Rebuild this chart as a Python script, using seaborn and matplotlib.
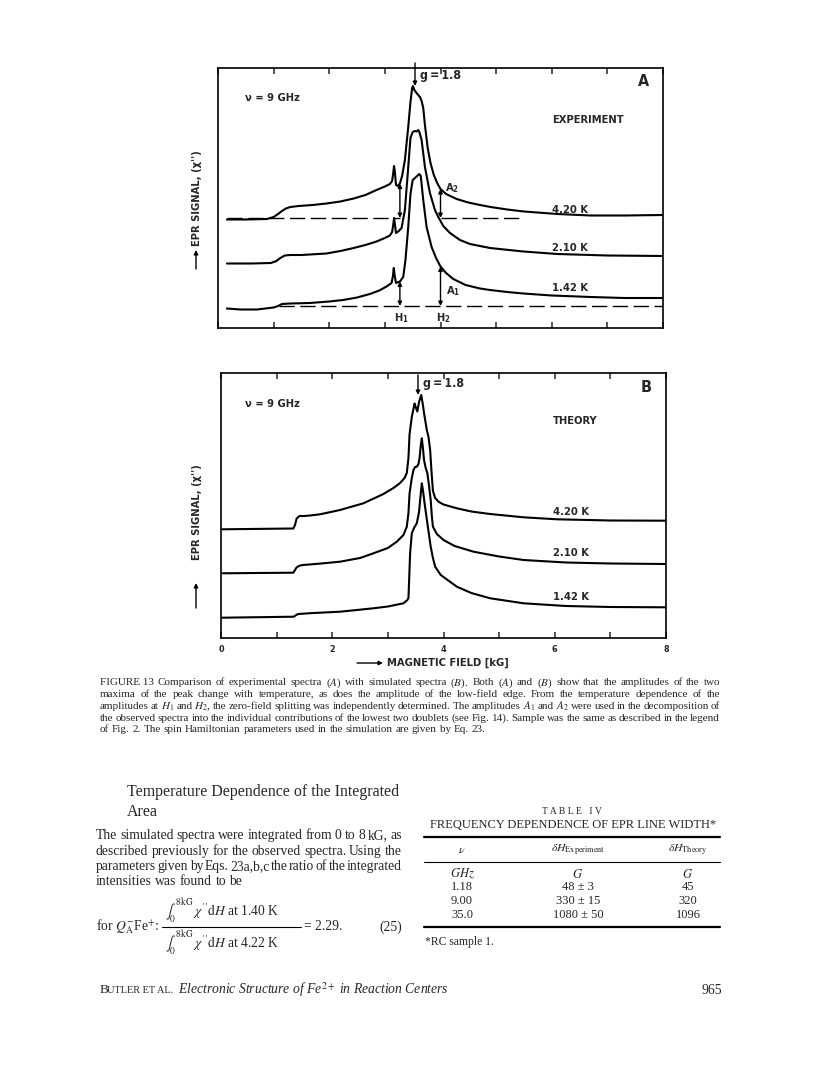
import numpy as np
import pandas as pd
import seaborn as sns
import matplotlib.pyplot as plt
from matplotlib import font_manager
from matplotlib.lines import Line2D

sns.set_style("white")

fonts = font_manager.fontManager.ttflist
installed = {f.name for f in fonts}
label_stretch = "normal"
if "Liberation Sans Narrow" in installed:
    label_font = "Liberation Sans Narrow"
elif any(f.name == "DejaVu Sans" and f.stretch == "condensed" for f in fonts):
    label_font, label_stretch = "DejaVu Sans", "condensed"
else:
    label_font = "Liberation Sans"
serif_font = "Liberation Serif"
plt.rcParams['font.family'] = [label_font, 'DejaVu Sans']
plt.rcParams['font.stretch'] = label_stretch
plt.rcParams['mathtext.fontset'] = 'custom'
plt.rcParams['mathtext.rm'] = label_font
plt.rcParams['mathtext.it'] = label_font + ':italic'
plt.rcParams['mathtext.bf'] = label_font + ':bold'

W, H = 816, 1069

#%% Data (field in kG, signal in arbitrary units)

# Panel A - experiment
a_field_420 = [0.16, 0.5, 0.88, 1.0, 1.08, 1.15, 1.22, 1.3, 1.45, 1.7, 1.95, 2.2, 2.44, 2.65, 2.85, 3.0, 3.09,
               3.13, 3.15, 3.165, 3.18, 3.2, 3.23, 3.27, 3.31, 3.36, 3.42, 3.46, 3.49, 3.505, 3.53, 3.57, 3.63,
               3.66, 3.69, 3.72, 3.77, 3.82, 3.88, 3.94, 4.0, 4.1, 4.29, 4.5, 4.71, 4.9, 5.2, 5.5, 6.1, 6.7, 7.3, 8.0]
a_signal_420 = [108.5, 108.5, 109, 111, 114, 117, 119.5, 121, 122, 123, 124.5, 126.5, 129.5, 133, 138, 141.5, 144,
                147, 155, 162, 156, 143, 142, 144.5, 152, 168, 201, 226, 240, 242, 238, 235, 231,
                227, 220, 203, 180, 165, 153, 145, 139, 134, 129, 125.5, 123, 121, 118.5, 116.5, 114, 112.5, 112.5, 113]

a_field_210 = [0.16, 0.6, 0.95, 1.05, 1.12, 1.2, 1.3, 1.5, 1.95, 2.2, 2.44, 2.65, 2.85, 3.0, 3.09, 3.13, 3.15,
               3.165, 3.18, 3.2, 3.25, 3.3, 3.36, 3.42, 3.46, 3.5, 3.54, 3.57, 3.6, 3.62, 3.66, 3.72, 3.81, 3.9,
               3.96, 4.05, 4.17, 4.35, 4.53, 4.89, 5.49, 6.1, 7.0, 8.0]
a_signal_210 = [64.5, 64.5, 65, 67, 70, 72.5, 73, 73, 74.5, 77, 80, 83, 86.5, 90, 92.5, 96, 103,
                110, 104, 95, 97, 100, 118, 161, 190, 196, 197, 196.5, 198, 196, 188, 161, 135, 118,
                111, 102, 95, 88, 84, 80, 76.5, 74, 72.5, 72]

a_field_142 = [0.16, 0.4, 0.7, 1.0, 1.08, 1.15, 1.3, 1.65, 2.0, 2.25, 2.5, 2.73, 2.9, 3.03, 3.12, 3.145, 3.16,
               3.175, 3.2, 3.27, 3.33, 3.37, 3.42, 3.46, 3.5, 3.57, 3.62, 3.645, 3.69, 3.75, 3.84, 3.92, 4.0,
               4.1, 4.23, 4.45, 4.71, 4.89, 5.2, 5.49, 6.0, 6.7, 7.3, 8.0]
a_signal_142 = [19.5, 18.5, 18.5, 20.5, 22, 24, 24.5, 25, 26.5, 28, 30.5, 34, 37.5, 41.5, 45, 52, 60,
                53, 45, 46.5, 51, 68, 101, 134, 148, 151.5, 154, 152, 128, 101, 81, 70, 61.5,
                55, 49, 43, 39.5, 38, 36, 34.5, 32.5, 31, 30, 30]

# Panel B - theory
b_field_420 = [0.02, 1.3, 1.33, 1.36, 1.41, 1.5, 1.6, 1.78, 2.14, 2.56, 2.92, 3.1, 3.22, 3.3, 3.34, 3.37, 3.39,
               3.43, 3.48, 3.5, 3.53, 3.56, 3.6, 3.63, 3.65, 3.7, 3.73, 3.76, 3.78, 3.81, 3.85, 3.91, 4.0,
               4.24, 4.5, 4.84, 5.44, 6.04, 7.0, 8.0]
b_signal_420 = [108.7, 109.5, 113, 119.5, 122, 122, 122.5, 123.7, 128, 134.7, 144, 150, 155, 160, 165, 180, 204,
                221, 234.5, 231, 226.5, 236, 243, 233, 225, 208, 201, 188, 170, 147, 140, 136.3, 133.5,
                129.7, 126.5, 124, 120.7, 118.7, 117.5, 117.3]

b_field_210 = [0.02, 1.3, 1.33, 1.36, 1.42, 1.48, 1.8, 2.14, 2.5, 2.74, 3.0, 3.16, 3.28, 3.34, 3.37, 3.39, 3.43,
               3.46, 3.49, 3.52, 3.55, 3.57, 3.59, 3.61, 3.63, 3.65, 3.68, 3.71, 3.74, 3.77, 3.79, 3.81, 3.88,
               4.0, 4.2, 4.54, 5.0, 5.44, 6.2, 7.0, 8.0]
b_signal_210 = [64.7, 65.3, 68, 70.7, 72.5, 73, 74.5, 76.3, 80, 84.7, 90, 96.3, 103, 111.3, 125, 144.7, 160,
                168, 171, 171.3, 174, 180, 192, 199.7, 190, 178, 170, 164.7, 152, 138, 122, 111.3, 104,
                98, 92, 86.3, 81.5, 78, 75.5, 74.5, 74]

b_field_142 = [0.02, 1.31, 1.35, 1.39, 1.6, 2.14, 2.74, 3.0, 3.28, 3.35, 3.37, 3.39, 3.4, 3.43, 3.47, 3.52, 3.56,
               3.58, 3.61, 3.63, 3.66, 3.71, 3.74, 3.77, 3.81, 3.85, 3.95, 4.24, 4.5, 4.84, 5.44, 6.2, 7.0, 8.0]
b_signal_142 = [20.3, 21.3, 23, 24, 24.8, 26.3, 29.7, 31.5, 34.7, 38, 40, 70, 85, 104.7, 110, 114.7, 126,
                138, 154.7, 148, 134.7, 114.7, 103, 91.3, 80, 71.3, 63, 51.3, 45, 39.7, 34.7, 32, 31, 30.7]

temps = ["4.20 K", "2.10 K", "1.42 K"]

# Dashed baselines of the experiment (field range, level)
a_base_420_field = [[0.16, 3.27], [4.0, 5.45]]
a_base_420_level = 110
a_base_142_field = [[1.1, 8.0]]
a_base_142_level = 22

# Amplitude markers (field, baseline, curve value)
h1_field, h2_field = 3.27, 4.0
a_marks = [(h1_field, 110, 144.5), (h2_field, 110, 139), (h1_field, 22, 46.5), (h2_field, 22, 61.5)]

tick_labels = ["0", "", "2", "", "4", "", "6", "", "8"]

caption = [
    "FIGURE\u00a013 Comparison of experimental spectra ($A$) with simulated spectra ($B$). Both ($A$) and ($B$) show that the amplitudes of the two",
    "maxima of the peak change with temperature, as does the amplitude of the low-field edge. From the temperature dependence of the",
    "amplitudes at $H_1$ and $H_2$, the zero-field splitting was independently determined. The amplitudes $A_1$ and $A_2$ were used in the decomposition of",
    "the observed spectra into the individual contributions of the lowest two doublets (see Fig. 14). Sample was the same as described in the legend",
    "of Fig. 2. The spin Hamiltonian parameters used in the simulation are given by Eq. 23.",
]
body = [
    "The simulated spectra were integrated from 0 to 8 kG, as",
    "described previously for the observed spectra. Using the",
    "parameters given by Eqs. 23a,b,c the ratio of the integrated",
    "intensities was found to be",
]
table_nu = ["1.18", "9.00", "35.0"]
table_exp = ["48 \u00b1 3", "330 \u00b1 15", "1080 \u00b1 50"]
table_theory = ["45", "320", "1096"]

#%% Figure

fig = plt.figure(figsize=(W / 100, H / 100), dpi=100)
fig.patch.set_facecolor("white")
rend = fig.canvas.get_renderer()


def fx(px):
    return px / W


def fy(py):
    return 1 - py / H


def put(px, py, s, size, ha="left", va="center", **kw):
    return fig.text(fx(px), fy(py), s, fontsize=size, ha=ha, va=va, **kw)


def justify(line, x0, x1, py, size, last=False, **kw):
    # py is the line centre; words sit on a common baseline
    base = py + 0.3 * size * 100 / 72
    words = line.split(" ")
    arts = [put(x0, base, w, size, va="baseline", **kw) for w in words]
    widths = [a.get_window_extent(renderer=rend).width for a in arts]
    if last or len(words) == 1:
        gap = size * 100 / 72 * 0.25
    else:
        gap = (x1 - x0 - sum(widths)) / (len(words) - 1)
    x = x0
    for a, w in zip(arts, widths):
        a.set_x(fx(x))
        x += w + gap


def arrow(x0, y0, x1, y1, lw=1.0, ms=6):
    fig.add_artist(plt.matplotlib.patches.FancyArrowPatch(
        (fx(x0), fy(y0)), (fx(x1), fy(y1)), transform=fig.transFigure,
        arrowstyle="-|>", mutation_scale=ms, lw=lw, color="black", shrinkA=0, shrinkB=0))


def px_rect(l, t, r, b):
    return [l / W, 1 - b / H, (r - l) / W, (b - t) / H]


def curve_frame(parts):
    return pd.concat([pd.DataFrame({"field": x, "signal": y, "temp": t}) for t, x, y in parts],
                     ignore_index=True)


df_a = curve_frame(zip(temps, [a_field_420, a_field_210, a_field_142], [a_signal_420, a_signal_210, a_signal_142]))
df_b = curve_frame(zip(temps, [b_field_420, b_field_210, b_field_142], [b_signal_420, b_signal_210, b_signal_142]))

axA = fig.add_axes(px_rect(218, 68, 663, 328))
axB = fig.add_axes(px_rect(221, 373, 666, 638))

for ax, df, top in ((axA, df_a, 260), (axB, df_b, 265)):
    sns.lineplot(data=df, x="field", y="signal", units="temp", estimator=None, sort=False,
                 color="black", lw=1.5, legend=False, ax=ax)
    ax.set_xlim(0, 8)
    ax.set_ylim(0, top)
    ax.set_xticks(range(0, 9))
    ax.set_yticks([])
    ax.set_xlabel("")
    ax.set_ylabel("")
    ax.tick_params(axis="x", direction="in", top=True, bottom=True, length=4, width=1.1,
                   labelbottom=False)
    for s in ax.spines.values():
        s.set_linewidth(1.2)
        s.set_color("black")

axB.set_xticklabels(tick_labels, fontsize=6.5, fontweight="bold")
axB.tick_params(axis="x", labelbottom=True, pad=5)

# dashed baselines + amplitude arrows (panel A)
for seg in a_base_420_field:
    axA.plot(seg, [a_base_420_level] * 2, color="black", lw=1.0, dashes=(11, 4))
for seg in a_base_142_field:
    axA.plot(seg, [a_base_142_level] * 2, color="black", lw=1.0, dashes=(11, 4))
for f, lo, hi in a_marks:
    axA.annotate("", xy=(f, hi), xytext=(f, lo),
                 arrowprops=dict(arrowstyle="<|-|>", color="black", lw=1.0, mutation_scale=6,
                                 shrinkA=0, shrinkB=0))

#%% Panel texts
lab = 8.0
wt = "semibold"
put(245, 98, "\u03bd = 9 GHz", lab, weight=wt)
put(552, 120, "EXPERIMENT", lab, weight=wt)
put(643, 81, "A", 11.5, ha="center", weight=wt)
put(420, 75, "g\u2009=\u20091.8", 8.8, weight=wt)
arrow(415, 63, 415, 86)
for t, py in zip(temps, [210, 248, 288]):
    put(552, py, t, lab, weight=wt)
put(401, 318, "H$_\\mathbf{1}$", lab, ha="center", weight=wt)
put(443, 318, "H$_\\mathbf{2}$", lab, ha="center", weight=wt)
put(445, 188, "A$_\\mathbf{2}$", lab, weight=wt)
put(446, 291, "A$_\\mathbf{1}$", lab, weight=wt)

put(245, 404, "\u03bd = 9 GHz", lab, weight=wt)
put(553, 421, "THEORY", lab, weight=wt)
put(646, 388, "B", 11.5, ha="center", weight=wt)
put(423, 383, "g\u2009=\u20091.8", 8.8, weight=wt)
arrow(418, 375, 418, 395)
for t, py in zip(temps, [512, 553, 597]):
    put(553, py, t, lab, weight=wt)

put(197, 198, "EPR SIGNAL, (\u03c7'')", lab, ha="center", rotation=90, weight=wt)
arrow(196, 269, 196, 250)
put(197, 512, "EPR SIGNAL, (\u03c7'')", lab, ha="center", rotation=90, weight=wt)
arrow(196, 608, 196, 583)
put(387, 663, "MAGNETIC FIELD [kG]", lab, weight=wt)
arrow(357, 663, 383, 663)

#%% Caption and page text
serif = dict(family=[serif_font, "DejaVu Serif"], math_fontfamily="stix", stretch="normal")
for i, (line, py) in enumerate(zip(caption, [682, 694, 706, 717.5, 729])):
    justify(line, 100, 720, py, 8.0, last=(i == len(caption) - 1), **serif)

put(127, 792, "Temperature Dependence of the Integrated", 11.4, **serif)
put(127, 812, "Area", 11.4, **serif)
for i, (line, py) in enumerate(zip(body, [835, 851, 866, 881])):
    justify(line, 96, 402, py, 9.8, last=(i == len(body) - 1), **serif)

put(96, 927, "for $Q_\\mathrm{A}^{-}$Fe$^{+}$:", 9.8, **serif)
put(165, 911, "$\\int_0^{8\\,\\mathrm{kG}}\\,\\chi''\\mathrm{d}H$ at 1.40 K", 9.8, **serif)
put(165, 943, "$\\int_0^{8\\,\\mathrm{kG}}\\,\\chi''\\mathrm{d}H$ at 4.22 K", 9.8, **serif)
fig.add_artist(Line2D([fx(162), fx(301)], [fy(927), fy(927)], color="black", lw=0.8))
put(304, 927, "= 2.29.", 9.8, **serif)
put(402, 927, "(25)", 9.8, ha="right", **serif)

# Table IV
put(572, 812, "T A B L E   I V", 7.0, ha="center", **serif)
put(573, 825, "FREQUENCY DEPENDENCE OF EPR LINE WIDTH*", 9.0, ha="center", **serif)
for py, lw in ((837, 1.6), (862, 0.8), (927, 1.6)):
    fig.add_artist(Line2D([fx(424), fx(720)], [fy(py), fy(py)], color="black", lw=lw))
col_x = [462, 578, 688]
put(col_x[0], 850, "$\\nu$", 8.5, ha="center", **serif)
put(col_x[1], 850, "$\\delta H_{\\mathrm{Experiment}}$", 8.5, ha="center", **serif)
put(col_x[2], 850, "$\\delta H_{\\mathrm{Theory}}$", 8.5, ha="center", **serif)
put(col_x[0], 874, "$GHz$", 9, ha="center", **serif)
put(col_x[1], 874, "$G$", 9, ha="center", **serif)
put(col_x[2], 874, "$G$", 9, ha="center", **serif)
for nu, ex, th, py in zip(table_nu, table_exp, table_theory, [887.5, 901, 914.5]):
    put(col_x[0], py, nu, 9, ha="center", **serif)
    put(col_x[1], py, ex, 9, ha="center", **serif)
    put(col_x[2], py, th, 9, ha="center", **serif)
put(425, 942, "*RC sample 1.", 8.4, **serif)

# Running footer
put(100, 990, "B", 9.6, **serif)
put(107, 990.5, "UTLER ET AL.", 7.4, **serif)
put(178, 990, "Electronic Structure of Fe$^{2+}$ in Reaction Centers", 9.8, style="italic", **serif)
put(722, 990, "965", 9.8, ha="right", **serif)

fig.savefig("out.png", dpi=100, facecolor="white")
